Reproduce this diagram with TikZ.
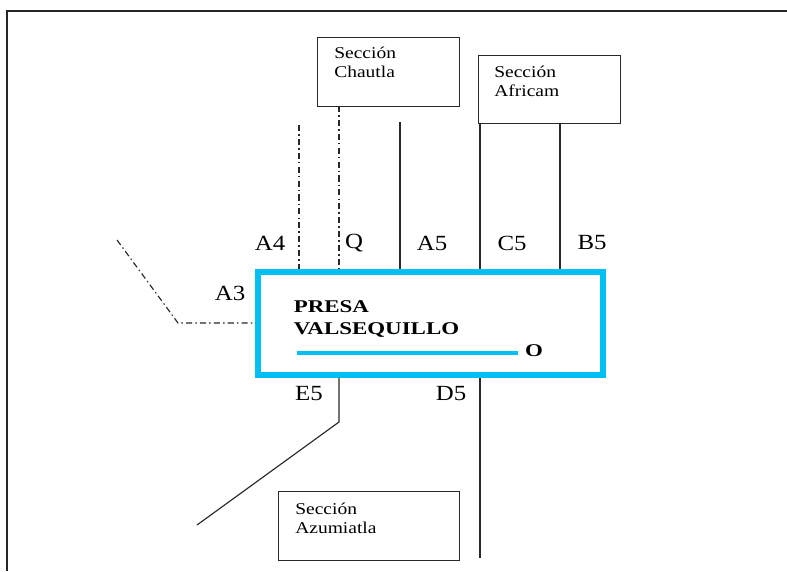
\documentclass[tikz,border=0pt]{standalone}
\usepackage{fontspec}
\usepackage{tikz}
\usetikzlibrary{positioning}
\setmainfont{Liberation Serif}
\newfontfamily\lblfont[FakeStretch=1.15]{Liberation Serif}
\newfontfamily\secfont[FakeStretch=1.18]{Liberation Serif}
\newfontfamily\presafont[FakeStretch=1.28]{Liberation Serif}
\definecolor{presacyan}{RGB}{0,191,243}
\definecolor{lineagray}{RGB}{40,40,40}

\tikzset{
  secbox/.style={draw=lineagray, line width=0.6pt, anchor=north west, inner sep=0pt},
  sectext/.style={anchor=north west, inner sep=0pt, align=left,
    font=\secfont\fontsize{9.4}{10.4}\selectfont},
  tramo/.style={lineagray, line width=0.65pt},
  tramodd/.style={tramo, dash pattern=on 3.5pt off 1.8pt on 0.8pt off 1.8pt},
  etiq/.style={inner sep=0pt, font=\lblfont\fontsize{12.3}{13}\selectfont}
}

\begin{document}
\begin{tikzpicture}[x=0.02cm, y=-0.02cm]
  \useasboundingbox (0,0) rectangle (787,571);
  % outer frame
  \draw[line width=1.4pt, black!85] (7,571) -- (7,11) -- (787,11);

  % dam
  \node[draw=presacyan, line width=2.9pt, minimum width=6.9cm, minimum height=2.06cm, inner sep=0pt]
    (presa) at (430.5,323.5) {};
  \node[anchor=north west, inner sep=0pt, align=left,
        font=\presafont\bfseries\fontsize{10.2}{12.2}\selectfont,
        below right=0.62cm and 0.76cm of presa.north west] (nombre) {PRESA\\VALSEQUILLO};
  \coordinate (nivel) at (297,353);
  \node[inner sep=0pt, font=\presafont\bfseries\fontsize{10.2}{12}\selectfont] (salida) at (534,351) {O};
  \draw[presacyan, line width=2pt] (nivel) -- ([xshift=-4pt]salida.west |- nivel);

  % sections
  \node[secbox, minimum width=2.84cm, minimum height=1.38cm] (chautla) at (317,37) {};
  \node[sectext, below right=0.2cm and 0.34cm of chautla.north west] (tchautla) {Sección\\Chautla};
  \node[secbox, minimum width=2.84cm, minimum height=1.36cm] (africam) at (478,55) {};
  \node[sectext, below right=0.22cm and 0.32cm of africam.north west] (tafricam) {Sección\\Africam};
  \node[secbox, minimum width=3.62cm, minimum height=1.38cm] (azumiatla) at (278,491) {};
  \node[sectext, below right=0.24cm and 0.34cm of azumiatla.north west] (tazumiatla) {Sección\\Azumiatla};

  % inflows
  \coordinate (a4top) at (299,125);
  \coordinate (qtop) at (339,106);
  \coordinate (a5top) at (400,122);
  \coordinate (c5top) at (480,123);
  \coordinate (b5top) at (560,123);
  \draw[tramodd] (a4top) -- (a4top |- presa.north);
  \draw[tramodd] (qtop) -- (qtop |- presa.north);
  \draw[tramo] (a5top) -- (a5top |- presa.north);
  \draw[tramo] (c5top) -- (c5top |- presa.north);
  \draw[tramo] (b5top) -- (b5top |- presa.north);
  \coordinate (a3ini) at (117,240);
  \coordinate (a3codo) at (178,323);
  \draw[tramodd] (a3ini) -- (a3codo) -- (a3codo -| presa.west);

  % outflows
  \coordinate (e5codo) at (339,422);
  \coordinate (e5fin) at (197,525);
  \coordinate (d5fin) at (480,558);
  \draw[tramo] (e5codo |- presa.south) -- (e5codo) -- (e5fin);
  \draw[tramo] (d5fin |- presa.south) -- (d5fin);

  % labels
  \node[etiq] (la4) at (270,243) {A4};
  \node[etiq] (lq) at (354,243) {Q};
  \node[etiq] (la5) at (432,243) {A5};
  \node[etiq] (lc5) at (512,243) {C5};
  \node[etiq] (lb5) at (592,243) {B5};
  \node[etiq] (la3) at (230,293) {A3};
  \node[etiq] (le5) at (309,394) {E5};
  \node[etiq] (ld5) at (451,394) {D5};
\end{tikzpicture}
\end{document}
